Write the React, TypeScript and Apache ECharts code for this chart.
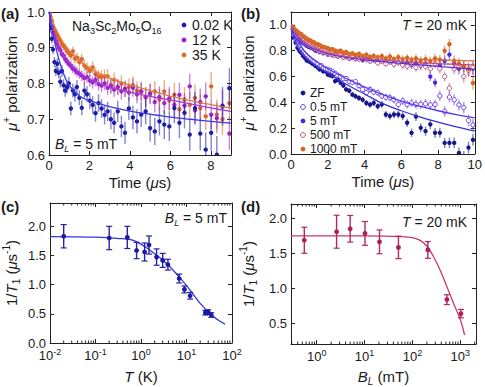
import React, { useEffect, useRef } from 'react';
import * as echarts from 'echarts';

const FONT = '"Liberation Sans", Arial, Helvetica, sans-serif';
const TXT = '#1a1a1a';
const AX = '#222222';

// ---------- Panel (a): Na3Sc2Mo5O16, BL = 5 mT ----------
const aTime = [0.02,0.08,0.14,0.2,0.27,0.34,0.41,0.48,0.56,0.64,0.72,0.8,0.89,0.98,1.08,1.18,1.28,1.38,1.5,1.62,1.75,1.88,2.02,2.16,2.3,2.45,2.6,2.75,2.9,3.06,3.22,3.4,3.58,3.76,3.95,4.15,4.35,4.56,4.78,5.0,5.23,5.46,5.7,5.95,6.2,6.45,6.7,6.96,7.22,7.48,7.75,8.02,8.3,8.58,8.92];
const aK002 = [0.99,0.955,0.925,0.895,0.86,0.835,0.855,0.83,0.805,0.835,0.795,0.78,0.79,0.8,0.73,0.78,0.77,0.79,0.76,0.732,0.78,0.77,0.752,0.74,0.717,0.745,0.73,0.712,0.722,0.7,0.69,0.722,0.68,0.662,0.73,0.705,0.694,0.713,0.722,0.675,0.666,0.694,0.685,0.68,0.731,0.69,0.718,0.657,0.731,0.66,0.615,0.662,0.601,0.736,0.787];
const aK12 = [0.995,0.975,0.958,0.942,0.93,0.918,0.91,0.9,0.893,0.882,0.878,0.868,0.862,0.855,0.85,0.842,0.838,0.832,0.828,0.822,0.815,0.818,0.808,0.803,0.81,0.798,0.794,0.8,0.788,0.792,0.783,0.79,0.778,0.785,0.775,0.788,0.77,0.778,0.762,0.772,0.748,0.762,0.745,0.758,0.74,0.768,0.738,0.792,0.725,0.748,0.764,0.713,0.703,0.738,0.66];
const aK35 = [1.0,0.985,0.975,0.96,0.95,0.942,0.935,0.925,0.92,0.91,0.905,0.9,0.89,0.886,0.878,0.89,0.87,0.872,0.86,0.868,0.85,0.843,0.835,0.845,0.826,0.82,0.818,0.82,0.82,0.796,0.81,0.79,0.8,0.785,0.79,0.795,0.78,0.776,0.762,0.77,0.778,0.755,0.778,0.752,0.769,0.728,0.755,0.74,0.76,0.731,0.708,0.792,0.713,0.7,0.745];
const aErrCold = [0.012,0.012,0.013,0.013,0.014,0.014,0.015,0.015,0.016,0.016,0.017,0.017,0.018,0.018,0.019,0.019,0.02,0.02,0.021,0.021,0.022,0.022,0.023,0.024,0.024,0.025,0.026,0.026,0.027,0.028,0.029,0.03,0.03,0.031,0.032,0.033,0.034,0.035,0.036,0.037,0.038,0.039,0.04,0.041,0.042,0.043,0.044,0.045,0.046,0.047,0.048,0.05,0.052,0.054,0.056];
const aErrWarm = [0.008,0.008,0.009,0.009,0.009,0.01,0.01,0.01,0.011,0.011,0.011,0.012,0.012,0.012,0.013,0.013,0.014,0.014,0.015,0.015,0.016,0.016,0.017,0.017,0.018,0.018,0.019,0.019,0.02,0.021,0.021,0.022,0.023,0.023,0.024,0.025,0.026,0.026,0.027,0.028,0.029,0.03,0.031,0.032,0.033,0.034,0.035,0.036,0.037,0.038,0.039,0.04,0.042,0.044,0.046];
const aFitTime = [0,0.25,0.5,0.75,1,1.5,2,3,4,5,6,7,8,9];
const aFitK002 = [1.0,0.925,0.865,0.823,0.795,0.765,0.752,0.735,0.723,0.714,0.706,0.7,0.694,0.689];
const aFitK12 = [1.0,0.94,0.9,0.875,0.857,0.83,0.812,0.79,0.776,0.764,0.754,0.743,0.732,0.722];
const aFitK35 = [1.0,0.963,0.935,0.91,0.892,0.865,0.843,0.815,0.796,0.78,0.765,0.752,0.741,0.731];
const aLegend = ['0.02 K', '12 K', '35 K'];

// ---------- Panel (b): T = 20 mK ----------
const bTime = [0.05,0.15,0.25,0.35,0.45,0.55,0.65,0.75,0.85,0.95,1.05,1.15,1.25,1.35,1.45,1.55,1.65,1.75,1.88,2.0,2.13,2.26,2.4,2.55,2.7,2.85,3.0,3.17,3.34,3.51,3.7,3.9,4.1,4.3,4.5,4.72,4.94,5.16,5.38,5.6,5.84,6.08,6.32,6.56,6.8,7.06,7.32,7.58,7.84,8.1,8.36,8.62,8.88,9.14,9.4,9.66,9.9];
const bZF = [0.95,0.9,0.862,0.823,0.8,0.784,0.76,0.745,0.725,0.719,0.712,0.7,0.694,0.68,0.672,0.655,0.66,0.64,0.64,0.616,0.61,0.603,0.564,0.575,0.551,0.53,0.5,0.49,0.46,0.447,0.434,0.42,0.395,0.382,0.395,0.37,0.384,0.306,0.294,0.306,0.306,0.294,0.242,0.164,0.29,0.203,0.177,0.229,0.164,0.164,0.086,0.086,0.086,0.008,-0.02,0.05,0.11];
const b05mT = [0.96,0.925,0.89,0.86,0.835,0.81,0.79,0.775,0.76,0.745,0.735,0.722,0.715,0.7,0.695,0.68,0.685,0.665,0.66,0.655,0.648,0.64,0.625,0.61,0.6,0.585,0.585,0.56,0.555,0.56,0.53,0.5,0.475,0.5,0.48,0.475,0.45,0.44,0.436,0.42,0.384,0.41,0.384,0.395,0.384,0.384,0.39,0.38,0.384,0.45,0.33,0.44,0.42,0.38,0.36,0.26,0.225];
const b5mT = [0.975,0.95,0.925,0.9,0.89,0.87,0.86,0.85,0.838,0.83,0.825,0.82,0.81,0.8,0.805,0.79,0.795,0.78,0.785,0.77,0.775,0.765,0.768,0.755,0.76,0.748,0.752,0.74,0.745,0.735,0.742,0.728,0.738,0.722,0.73,0.72,0.725,0.71,0.72,0.705,0.715,0.7,0.71,0.69,0.705,0.685,0.7,0.6,0.553,0.69,0.722,0.77,0.7,0.66,0.68,0.65,0.66];
const b500mT = [0.97,0.955,0.935,0.92,0.905,0.89,0.88,0.865,0.855,0.845,0.838,0.83,0.822,0.815,0.81,0.8,0.798,0.79,0.788,0.78,0.775,0.772,0.765,0.76,0.762,0.75,0.755,0.745,0.75,0.74,0.735,0.742,0.73,0.72,0.73,0.706,0.72,0.7,0.715,0.695,0.71,0.69,0.68,0.7,0.67,0.69,0.68,0.66,0.7,0.66,0.6,0.51,0.66,0.68,0.6,0.65,0.67];
const b1000mT = [0.99,0.975,0.96,0.95,0.935,0.93,0.915,0.905,0.895,0.885,0.88,0.87,0.865,0.855,0.85,0.845,0.835,0.83,0.826,0.82,0.81,0.812,0.8,0.795,0.8,0.785,0.79,0.775,0.78,0.768,0.775,0.76,0.77,0.752,0.76,0.75,0.758,0.74,0.755,0.735,0.75,0.735,0.745,0.73,0.74,0.725,0.735,0.72,0.74,0.73,0.8,0.85,0.72,0.7,0.68,0.66,0.55];
const bErrLow = [0.01,0.01,0.01,0.011,0.011,0.011,0.012,0.012,0.012,0.013,0.013,0.013,0.014,0.014,0.014,0.015,0.015,0.015,0.016,0.016,0.017,0.017,0.018,0.018,0.019,0.019,0.02,0.02,0.021,0.021,0.022,0.023,0.023,0.024,0.025,0.025,0.026,0.027,0.028,0.029,0.03,0.031,0.032,0.033,0.034,0.035,0.036,0.037,0.038,0.039,0.04,0.041,0.042,0.043,0.044,0.045,0.046];
const bErrHigh = [0.008,0.008,0.008,0.009,0.009,0.009,0.01,0.01,0.01,0.011,0.011,0.011,0.012,0.012,0.012,0.013,0.013,0.013,0.014,0.014,0.015,0.015,0.016,0.016,0.017,0.017,0.018,0.018,0.019,0.019,0.02,0.021,0.021,0.022,0.023,0.023,0.024,0.025,0.026,0.027,0.028,0.029,0.03,0.031,0.032,0.033,0.034,0.035,0.036,0.037,0.039,0.041,0.043,0.045,0.047,0.049,0.051];
const bFitTime = [0,0.25,0.5,0.75,1,1.5,2,3,4,5,6,7,8,9,10];
const bFitZF = [0.97,0.875,0.805,0.76,0.725,0.672,0.628,0.54,0.465,0.39,0.335,0.288,0.247,0.21,0.178];
const bFit05mT = [0.975,0.9,0.84,0.795,0.76,0.705,0.66,0.585,0.52,0.46,0.41,0.37,0.335,0.305,0.28];
const bFit5mT = [0.99,0.93,0.885,0.855,0.83,0.8,0.775,0.748,0.73,0.715,0.702,0.69,0.678,0.667,0.656];
const bFit500mT = [0.98,0.94,0.9,0.87,0.845,0.81,0.785,0.757,0.74,0.727,0.716,0.707,0.7,0.695,0.69];
const bFit1000mT = [1.0,0.965,0.935,0.908,0.885,0.85,0.82,0.785,0.763,0.75,0.741,0.734,0.729,0.725,0.722];
const bLegend = ['ZF', '0.5 mT', '5 mT', '500 mT', '1000 mT'];

// ---------- Panel (c): 1/T1 vs T ----------
const cTemp = [0.02,0.2,0.5,0.8,1.2,1.5,2.2,3.0,3.9,6.9,9.0,12,26,30,35];
const cRate = [1.83,1.80,1.81,1.586,1.56,1.68,1.473,1.416,1.343,1.105,0.918,0.81,0.52,0.53,0.48];
const cErr = [0.2,0.2,0.19,0.14,0.155,0.155,0.14,0.12,0.093,0.076,0.06,0.057,0.04,0.04,0.04];
const cFitTemp = [0.01,0.1,0.3,0.7,1.6,3.7,7.2,12,20,39,70];
const cFitRate = [1.825,1.815,1.795,1.756,1.586,1.36,1.116,0.906,0.68,0.453,0.323];

// ---------- Panel (d): 1/T1 vs BL ----------
const dField = [0.55,2.6,5.0,10.2,20.5,51,210,525,1030];
const dRate = [1.683,1.804,1.846,1.78,1.66,1.58,1.544,0.835,0.635];
const dErr = [0.186,0.235,0.19,0.17,0.17,0.16,0.12,0.07,0.06];
const dFitField = [0.29,10,60,100,145,200,275,380,525,725,1000,1230];
const dFitRate = [1.745,1.744,1.735,1.72,1.68,1.6,1.45,1.255,1.02,0.78,0.55,0.33];

const C = {
  aK002: '#1d1da6', aK12: '#9b24c9', aK35: '#db6a2a',
  aK002Line: '#3a3ae6', aK12Line: '#a53ad8', aK35Line: '#e07a3a',
  bZF: '#17178a', b05: '#6a3cf0', b5: '#4526e0', b500: '#c24f7c', b1000: '#d5611c',
  bZFLine: '#3434d8', b05Line: '#5a3ae8', b5Line: '#5530e0', b500Line: '#c44f7f', b1000Line: '#da7030',
  c: '#1a1aa0', cLine: '#3535e0', d: '#b01e5a', dLine: '#c73a6c',
};

function hexA(hex: string, a: number) {
  const n = parseInt(hex.slice(1), 16);
  return `rgba(${(n >> 16) & 255},${(n >> 8) & 255},${n & 255},${a})`;
}

function richSet(size: number) {
  const s = Math.round(size * 0.65);
  const base = { fontFamily: FONT, color: TXT, fill: TXT };
  return {
    i: { ...base, fontStyle: 'italic', fontSize: size, lineHeight: size + 5 },
    sup: { ...base, fontSize: s, lineHeight: s, verticalAlign: 'top' },
    sub: { ...base, fontSize: s, lineHeight: s, verticalAlign: 'bottom' },
    isub: { ...base, fontStyle: 'italic', fontSize: s, lineHeight: s, verticalAlign: 'bottom' },
  };
}

function errRender(color: string, barColor: string, hollow: boolean, cap: number, r: number) {
  return (_p: any, api: any) => {
    const x = api.value(0), y = api.value(1), e = api.value(2);
    const p = api.coord([x, y]);
    const lo = api.coord([x, y - e]);
    const hi = api.coord([x, y + e]);
    const children: any[] = [
      { type: 'line', shape: { x1: p[0], y1: lo[1], x2: p[0], y2: hi[1] }, style: { stroke: barColor, lineWidth: 1.4 } },
    ];
    if (cap > 0) {
      children.push({ type: 'line', shape: { x1: p[0] - cap, y1: lo[1], x2: p[0] + cap, y2: lo[1] }, style: { stroke: barColor, lineWidth: 1.2 } });
      children.push({ type: 'line', shape: { x1: p[0] - cap, y1: hi[1], x2: p[0] + cap, y2: hi[1] }, style: { stroke: barColor, lineWidth: 1.2 } });
    }
    children.push({
      type: 'circle', shape: { cx: p[0], cy: p[1], r },
      style: hollow ? { fill: '#ffffff', stroke: color, lineWidth: 1 } : { fill: color },
    });
    return { type: 'group', children };
  };
}

function errSeries(idx: number, xs: number[], ys: number[], es: number[], color: string, opts: { hollow?: boolean; cap?: number; r?: number; barAlpha?: number; z?: number } = {}) {
  return {
    type: 'custom', xAxisIndex: idx, yAxisIndex: idx, clip: true, silent: true,
    data: xs.map((x, i) => [x, ys[i], es[i]]),
    encode: { x: 0, y: 1 },
    z: opts.z ?? 2,
    renderItem: errRender(color, hexA(color, opts.barAlpha ?? 0.55), !!opts.hollow, opts.cap ?? 0, opts.r ?? 2.2),
  };
}

function fitSeries(idx: number, xs: number[], ys: number[], color: string) {
  return {
    type: 'line', xAxisIndex: idx, yAxisIndex: idx, silent: true, clip: true,
    data: xs.map((x, i) => [x, ys[i]]), showSymbol: false, symbol: 'none', smooth: 0.35,
    lineStyle: { color, width: 1.3 }, z: 4,
  };
}

function minorLogTicks(min: number, max: number) {
  const out: number[] = [];
  for (let e = Math.floor(Math.log10(min)); e <= Math.ceil(Math.log10(max)); e++) {
    for (let k = 2; k <= 9; k++) {
      const v = k * Math.pow(10, e);
      if (v > min && v < max) out.push(v);
    }
  }
  return out;
}

function minorTickSeries(idx: number, min: number, max: number, yMin: number, yMax: number) {
  return {
    type: 'custom', xAxisIndex: idx, yAxisIndex: idx, silent: true,
    data: minorLogTicks(min, max).map((v) => [v, yMin]), encode: { x: 0, y: 1 }, z: 5,
    renderItem: (_p: any, api: any) => {
      const x = api.value(0);
      const b = api.coord([x, yMin]);
      const t = api.coord([x, yMax]);
      return {
        type: 'group', children: [
          { type: 'line', shape: { x1: b[0], y1: b[1], x2: b[0], y2: b[1] - 2.5 }, style: { stroke: AX, lineWidth: 1 } },
          { type: 'line', shape: { x1: t[0], y1: t[1], x2: t[0], y2: t[1] + 2.5 }, style: { stroke: AX, lineWidth: 1 } },
        ],
      };
    },
  };
}

const tickLabel = { show: true, fontSize: 13, fontFamily: FONT, color: TXT, margin: 4 };

function baseAxis(gridIndex: number, position: string, extra: any) {
  return {
    gridIndex, position,
    axisLine: { show: true, onZero: false, lineStyle: { color: AX, width: 1 } },
    axisTick: { show: true, inside: true, length: 4, lineStyle: { color: AX, width: 1 } },
    axisLabel: { show: false },
    splitLine: { show: false },
    ...extra,
  };
}

function nameStyle(size: number) {
  return { fontSize: size, fontFamily: FONT, color: TXT, lineHeight: size + 5, rich: richSet(size) };
}

const fix1 = (v: number) => v.toFixed(1);
const logFmt = (v: number) => {
  const e = Math.log10(v);
  const r = Math.round(e);
  if (Math.abs(e - r) > 1e-6) return '';
  return '10{sup|' + r + '}';
};
const logLabel = {
  ...tickLabel, formatter: logFmt, lineHeight: 17, showMinLabel: false, showMaxLabel: false,
  rich: { sup: { fontSize: 9, lineHeight: 9, verticalAlign: 'top', fontFamily: FONT, color: TXT } },
};

function txt(x: number, y: number, text: string, size: number, align = 'left', weight = 'normal', lh?: number) {
  const style: any = {
    text, fontSize: size, fontFamily: FONT, fontWeight: weight, fill: TXT,
    align, verticalAlign: 'middle', lineHeight: lh ?? size + 5,
  };
  if (text.indexOf('{') >= 0) style.rich = richSet(size);
  return { type: 'text', x, y, z: 100, style };
}
function marker(x: number, y: number, color: string, hollow = false) {
  return {
    type: 'circle', z: 100, shape: { cx: x, cy: y, r: 2.4 },
    style: hollow ? { fill: '#fff', stroke: color, lineWidth: 1 } : { fill: color },
  };
}

function buildOption() {
  const grids = [
    { left: 48, top: 12, width: 183, height: 143 },
    { left: 291, top: 12, width: 184, height: 142 },
    { left: 48, top: 203, width: 184, height: 142 },
    { left: 291, top: 204, width: 185, height: 143 },
  ];
  const polName = '{i|μ}{sup|+} polarization';
  const rateName = '1/{i|T}{sub|1} ({i|μ}s{sup|-1})';
  const xAxis: any[] = [
    baseAxis(0, 'bottom', { type: 'value', min: 0, max: 9, interval: 2, axisLabel: { ...tickLabel, showMaxLabel: false },
      name: 'Time ({i|μ}s)', nameLocation: 'middle', nameGap: 14, nameTextStyle: nameStyle(15) }),
    baseAxis(1, 'bottom', { type: 'value', min: 0, max: 10, interval: 2, axisLabel: { ...tickLabel },
      name: 'Time ({i|μ}s)', nameLocation: 'middle', nameGap: 15, nameTextStyle: nameStyle(15) }),
    baseAxis(2, 'bottom', { type: 'log', logBase: 10, min: 0.01, max: 100, axisLabel: { ...logLabel, showMinLabel: true, showMaxLabel: true },
      name: '{i|T} (K)', nameLocation: 'middle', nameGap: 23, nameTextStyle: nameStyle(15) }),
    baseAxis(3, 'bottom', { type: 'log', logBase: 10, min: 0.29, max: 2130, axisLabel: logLabel,
      name: '{i|B}{isub|L} (mT)', nameLocation: 'middle', nameGap: 19, nameTextStyle: nameStyle(15) }),
    baseAxis(0, 'top', { type: 'value', min: 0, max: 9, interval: 2 }),
    baseAxis(1, 'top', { type: 'value', min: 0, max: 10, interval: 2 }),
    baseAxis(2, 'top', { type: 'log', logBase: 10, min: 0.01, max: 100 }),
    baseAxis(3, 'top', { type: 'log', logBase: 10, min: 0.29, max: 2130 }),
  ];
  const yAxis: any[] = [
    baseAxis(0, 'left', { type: 'value', min: 0.6, max: 1.0, interval: 0.1, axisLabel: { ...tickLabel, formatter: fix1 },
      name: polName, nameLocation: 'middle', nameGap: 28, nameTextStyle: nameStyle(15) }),
    baseAxis(1, 'left', { type: 'value', min: 0, max: 1.1, interval: 0.2, axisLabel: { ...tickLabel, formatter: fix1, showMaxLabel: false },
      name: polName, nameLocation: 'middle', nameGap: 33, nameTextStyle: nameStyle(15) }),
    baseAxis(2, 'left', { type: 'value', min: 0, max: 2.4, interval: 0.5, axisLabel: { ...tickLabel, formatter: fix1, showMaxLabel: false },
      name: rateName, nameLocation: 'middle', nameGap: 29, nameTextStyle: nameStyle(15) }),
    baseAxis(3, 'left', { type: 'value', min: 0.2, max: 2.2, splitNumber: 4, axisLabel: { ...tickLabel, formatter: fix1, showMinLabel: false, showMaxLabel: false },
      name: rateName, nameLocation: 'middle', nameGap: 33, nameTextStyle: nameStyle(15) }),
    baseAxis(0, 'right', { type: 'value', min: 0.6, max: 1.0, interval: 0.1 }),
    baseAxis(1, 'right', { type: 'value', min: 0, max: 1.1, interval: 0.2 }),
    baseAxis(2, 'right', { type: 'value', min: 0, max: 2.4, interval: 0.5 }),
    baseAxis(3, 'right', { type: 'value', min: 0.2, max: 2.2, splitNumber: 4 }),
  ];

  const series: any[] = [
    // (a)
    errSeries(0, aTime, aK35, aErrWarm, C.aK35),
    errSeries(0, aTime, aK12, aErrWarm, C.aK12),
    errSeries(0, aTime, aK002, aErrCold, C.aK002),
    fitSeries(0, aFitTime, aFitK35, C.aK35Line),
    fitSeries(0, aFitTime, aFitK12, C.aK12Line),
    fitSeries(0, aFitTime, aFitK002, C.aK002Line),
    // (b)
    errSeries(1, bTime, bZF, bErrLow, C.bZF),
    errSeries(1, bTime, b05mT, bErrLow, C.b05, { hollow: true }),
    errSeries(1, bTime, b5mT, bErrHigh, C.b5),
    errSeries(1, bTime, b500mT, bErrHigh, C.b500, { hollow: true }),
    errSeries(1, bTime, b1000mT, bErrHigh, C.b1000),
    fitSeries(1, bFitTime, bFitZF, C.bZFLine),
    fitSeries(1, bFitTime, bFit05mT, C.b05Line),
    fitSeries(1, bFitTime, bFit5mT, C.b5Line),
    fitSeries(1, bFitTime, bFit500mT, C.b500Line),
    fitSeries(1, bFitTime, bFit1000mT, C.b1000Line),
    // (c)
    fitSeries(2, cFitTemp, cFitRate, C.cLine),
    errSeries(2, cTemp, cRate, cErr, C.c, { cap: 3, r: 2.4, barAlpha: 0.95, z: 5 }),
    minorTickSeries(2, 0.01, 100, 0, 2.4),
    // (d)
    fitSeries(3, dFitField, dFitRate, C.dLine),
    errSeries(3, dField, dRate, dErr, C.d, { cap: 3, r: 2.4, barAlpha: 0.95, z: 5 }),
    minorTickSeries(3, 0.29, 2130, 0.2, 2.2),
  ];

  const aColors = [C.aK002, C.aK12, C.aK35];
  const bColors = [C.bZF, C.b05, C.b5, C.b500, C.b1000];
  const bHollow = [false, true, false, true, false];
  const graphic: any[] = [
    txt(1, 13, '(a)', 15, 'left', 'bold', 16),
    txt(241, 13, '(b)', 15, 'left', 'bold', 16),
    txt(1, 206, '(c)', 15, 'left', 'bold', 16),
    txt(241, 206, '(d)', 15, 'left', 'bold', 16),
    txt(72, 26, 'Na{sub|3}Sc{sub|2}Mo{sub|5}O{sub|16}', 14),
    txt(55, 144, '{i|B}{isub|L} = 5 mT', 14),
    txt(467, 25, '{i|T} = 20 mK', 14, 'right'),
    txt(227, 218, '{i|B}{isub|L} = 5 mT', 14, 'right'),
    txt(467, 222, '{i|T} = 20 mK', 14, 'right'),
  ];
  aLegend.forEach((s, i) => {
    graphic.push(marker(184, 25 + i * 15, aColors[i]));
    graphic.push(txt(192, 25 + i * 15, s, 14, 'left', 'normal', 14));
  });
  bLegend.forEach((s, i) => {
    graphic.push(marker(303, 93 + i * 14, bColors[i], bHollow[i]));
    graphic.push(txt(310, 93 + i * 14, s, 12, 'left', 'normal', 12));
  });

  return {
    animation: false,
    backgroundColor: '#ffffff',
    textStyle: { fontFamily: FONT },
    grid: grids,
    xAxis, yAxis, series, graphic,
  };
}

export default function App() {
  const ref = useRef<HTMLDivElement>(null);
  useEffect(() => {
    if (!ref.current) return;
    const chart = echarts.init(ref.current, undefined, { renderer: 'svg' });
    chart.setOption(buildOption() as any);
    return () => chart.dispose();
  }, []);
  return (
    <div
      ref={ref}
      style={{ position: 'absolute', left: 0, top: 0, width: 485, height: 387, background: '#fff' }}
    />
  );
}
